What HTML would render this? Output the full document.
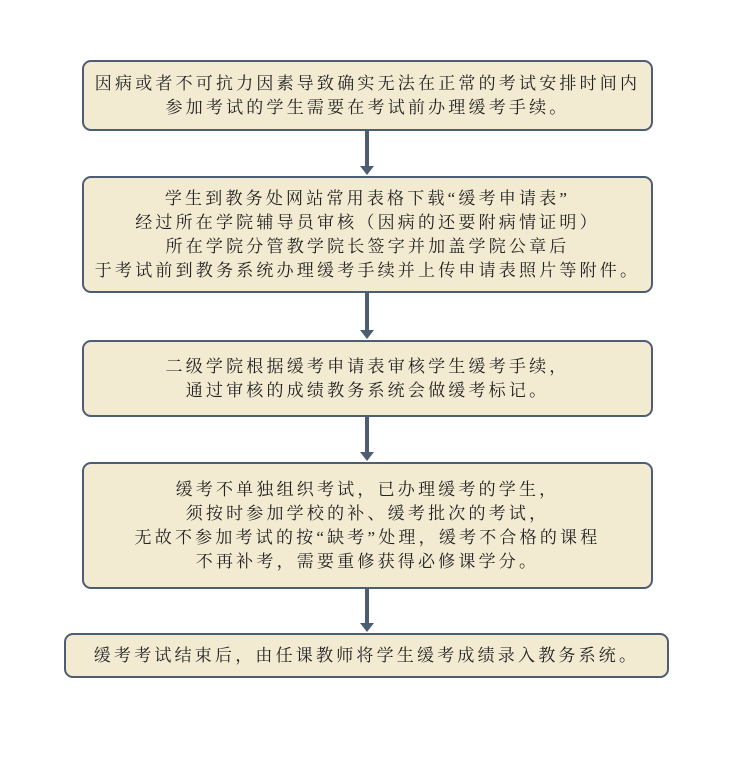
<!DOCTYPE html>
<html><head><meta charset="utf-8"><style>
body{margin:0;width:740px;height:768px;background:#fff;position:relative;font-family:"Liberation Serif","Noto Serif CJK SC",serif;}
.b{position:absolute;box-sizing:border-box;background:#f3ead2;border:2px solid #4d5d73;border-radius:9px;display:flex;align-items:center;justify-content:center;text-align:center;font-size:17px;line-height:24px;color:#222;letter-spacing:3.2px;}
.l{position:absolute;left:365px;width:4px;background:#4d5d73;}
.a{position:absolute;left:360px;width:0;height:0;border-left:7px solid transparent;border-right:7px solid transparent;border-top:9px solid #4d5d73;}
</style></head><body>
<div class="b" style="left:82px;top:60px;width:571px;height:71px">因病或者不可抗力因素导致确实无法在正常的考试安排时间内<br>参加考试的学生需要在考试前办理缓考手续。</div>
<div class="l" style="top:131px;height:36px"></div><div class="a" style="top:166px"></div>
<div class="b" style="left:82px;top:176px;width:571px;height:117px">学生到教务处网站常用表格下载“缓考申请表”<br>经过所在学院辅导员审核（因病的还要附病情证明）<br>所在学院分管教学院长签字并加盖学院公章后<br>于考试前到教务系统办理缓考手续并上传申请表照片等附件。</div>
<div class="l" style="top:293px;height:38px"></div><div class="a" style="top:330px"></div>
<div class="b" style="left:82px;top:340px;width:571px;height:77px">二级学院根据缓考申请表审核学生缓考手续，<br>通过审核的成绩教务系统会做缓考标记。</div>
<div class="l" style="top:417px;height:36px"></div><div class="a" style="top:452px"></div>
<div class="b" style="left:82px;top:462px;width:571px;height:127px">缓考不单独组织考试，已办理缓考的学生，<br>须按时参加学校的补、缓考批次的考试，<br>无故不参加考试的按“缺考”处理，缓考不合格的课程<br>不再补考，需要重修获得必修课学分。</div>
<div class="l" style="top:589px;height:35px"></div><div class="a" style="top:623px"></div>
<div class="b" style="left:64px;top:633px;width:605px;height:45px">缓考考试结束后，由任课教师将学生缓考成绩录入教务系统。</div>
</body></html>
